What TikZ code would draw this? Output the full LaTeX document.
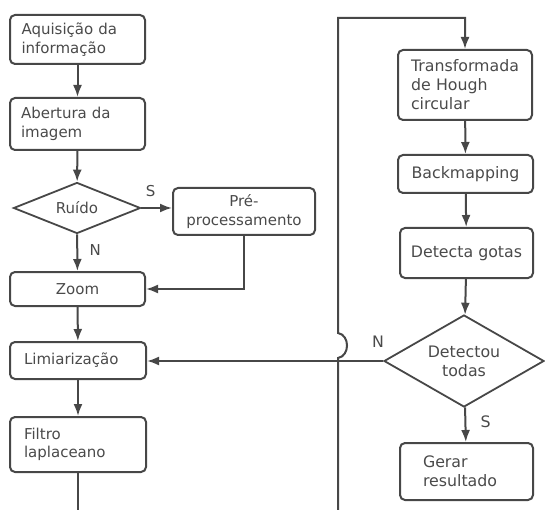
\documentclass[tikz,border=0pt]{standalone}
\usepackage{fontspec}
\setmainfont{DejaVu Sans}
\usetikzlibrary{shapes.geometric,arrows.meta}
\definecolor{ink}{HTML}{474747}
\definecolor{txt}{HTML}{4A4A4A}
\begin{document}
\begin{tikzpicture}[x=1pt,y=-1pt,
  every node/.style={font=\fontsize{15}{18.5}\selectfont, text=txt},
  big/.style={font=\fontsize{15.8}{19}\selectfont},
  proc/.style={draw=ink, line width=2pt, rounded corners=5pt, inner ysep=0pt, align=center},
  lproc/.style={proc, align=left},
  decision/.style={draw=ink, line width=1.8pt, diamond, inner sep=0pt, align=center},
  wire/.style={draw=ink, line width=2pt},
  flow/.style={wire, -{Latex[length=12pt,width=9pt]}},
  lbl/.style={inner sep=3.3pt}
  ]
\useasboundingbox (0,0) rectangle (545,510);

% left column
\node[lproc, minimum width=135pt, minimum height=49pt, inner xsep=11.5pt, text width=112pt]
  (acq) at (77.5,39.5) {Aquisição da\\informação};
\node[lproc, minimum width=135pt, minimum height=52pt, inner xsep=11pt, text width=113pt]
  (open) at (77.5,124) {Abertura da\\imagem};
\node[decision, minimum width=127pt, minimum height=51pt, aspect=2.5]
  (noise) at (77,208) {Ruído};
\node[proc, minimum width=142pt, minimum height=47pt, inner xsep=0pt]
  (pre) at (244,211.5) {Pré-\\processamento};
\node[proc, minimum width=135pt, minimum height=34pt]
  (zoom) at (77.5,289) {Zoom};
\node[lproc, minimum width=136pt, minimum height=37pt, inner xsep=14pt, text width=108pt]
  (thr) at (78,360.5) {Limiarização};
\node[lproc, minimum width=136pt, minimum height=55pt, inner xsep=14pt, text width=108pt]
  (lap) at (78,444.5) {Filtro\\laplaceano};

% right column
\node[lproc, big, minimum width=134pt, minimum height=70pt, inner xsep=13pt, text width=108pt]
  (hough) at (465,85) {Transformada\\de Hough\\circular};
\node[proc, big, minimum width=135pt, minimum height=38pt]
  (back) at (465.5,174) {Backmapping};
\node[proc, big, minimum width=133pt, minimum height=50pt, inner xsep=0pt]
  (drops) at (466.5,253) {Detecta gotas};
\node[decision, big, minimum width=160pt, minimum height=92pt, aspect=1.74]
  (all) at (464,361) {Detectou\\todas};
\node[lproc, big, minimum width=133pt, minimum height=57pt, inner xsep=23pt, text width=87pt]
  (out) at (466.5,471.5) {Gerar\\resultado};

% loop ends and the hop drawn on the return line
\coordinate (lapend) at (78,512);
\coordinate (loopbot) at (338,512);
\coordinate (hoplo) at (338,358);
\coordinate (hophi) at (338,333);
\coordinate (looptop) at (338,18);

% connectors
\draw[flow] (acq) -- (open);
\draw[flow] (open) -- (noise);
\draw[flow] (noise.east) -- node[lbl, pos=0.3, above=7pt] {S} (noise.east -| pre.west);
\draw[flow] (noise) -- node[lbl, pos=0.42, right=8pt] {N} (zoom);
\draw[flow] (pre.south) |- (zoom.east);
\draw[flow] (zoom) -- (thr);
\draw[flow] (thr) -- (lap);
\draw[wire] (lap.south) -- (lapend);
\draw[flow] (loopbot) -- (hoplo) .. controls (350,356) and (350,335) .. (hophi)
  -- (looptop) -| (hough.north);
\draw[flow] (hough) -- (back);
\draw[flow] (back) -- (drops);
\draw[flow] (drops) -- (all);
\draw[flow] (all.west) -- node[lbl, big, at start, above=9pt, xshift=-5pt] {N} (all.west -| thr.east);
\draw[flow] (all) -- node[lbl, big, pos=0.42, right=11pt] {S} (out);
\end{tikzpicture}
\end{document}
